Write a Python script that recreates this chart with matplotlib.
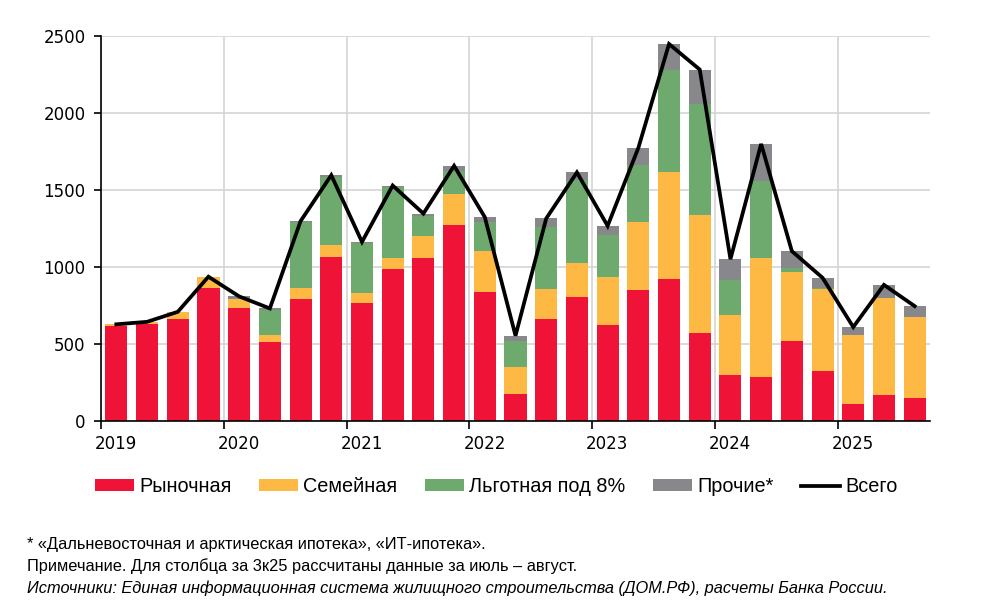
import matplotlib.pyplot as plt
import matplotlib.transforms as mtransforms
import numpy as np

# кварталы 2019Q1 - 2025Q3
quarters = ['1к19', '2к19', '3к19', '4к19', '1к20', '2к20', '3к20', '4к20',
            '1к21', '2к21', '3к21', '4к21', '1к22', '2к22', '3к22', '4к22',
            '1к23', '2к23', '3к23', '4к23', '1к24', '2к24', '3к24', '4к24',
            '1к25', '2к25', '3к25']

market = [618, 631, 662, 865, 735, 512, 791, 1064, 768, 984, 1057, 1272, 835, 173,
          662, 807, 621, 850, 921, 571, 298, 285, 519, 322, 112, 171, 151]
family = [10, 13, 47, 67, 59, 46, 72, 80, 65, 73, 143, 203, 268, 179,
          197, 220, 311, 439, 693, 768, 390, 772, 448, 537, 446, 629, 526]
pref8 = [0, 0, 0, 0, 0, 162, 426, 443, 320, 463, 128, 151, 190, 169,
         402, 541, 277, 376, 665, 722, 229, 504, 28, 4, 0, 0, 0]
other = [0, 0, 0, 5, 15, 11, 9, 9, 10, 9, 19, 31, 31, 33,
         54, 46, 58, 108, 169, 221, 134, 238, 108, 67, 52, 84, 69]
total = [628, 644, 709, 937, 809, 731, 1298, 1596, 1163, 1529, 1347, 1657, 1324, 554,
         1315, 1614, 1267, 1773, 2448, 2282, 1051, 1799, 1103, 930, 610, 884, 746]

years = ['2019', '2020', '2021', '2022', '2023', '2024', '2025']

c_red = '#EE1337'
c_yel = '#FDB944'
c_grn = '#6EAA6E'
c_gry = '#87878C'

fig = plt.figure(figsize=(9.95, 6.14), dpi=100)
ax = fig.add_axes([0.1015, 0.3143, 0.8332, 0.6271])

x = np.arange(len(quarters)) + 0.5
w = 0.72
m = np.array(market)
f = np.array(family)
p = np.array(pref8)
o = np.array(other)

ax.bar(x, m, w, color=c_red, label='Рыночная', zorder=2)
ax.bar(x, f, w, bottom=m, color=c_yel, label='Семейная', zorder=2)
ax.bar(x, p, w, bottom=m + f, color=c_grn, label='Льготная под 8%', zorder=2)
ax.bar(x, o, w, bottom=m + f + p, color=c_gry, label='Прочие*', zorder=2)
ax.plot(x, total, color='black', lw=2.7, label='Всего', zorder=3,
        solid_joinstyle='miter')

ax.set_xlim(0, len(quarters))
ax.set_ylim(0, 2500)
ax.set_xticks(np.arange(len(years)) * 4)
ax.set_xticklabels(years, fontsize=12)
ax.set_yticks(np.arange(0, 2501, 500))
ax.tick_params(axis='y', labelsize=12, length=5, width=1.2, pad=6)
ax.tick_params(axis='x', length=6, width=1.2, pad=4)
# подписи лет сдвинуты вправо от делений
off = mtransforms.ScaledTranslation(0.15, 0, fig.dpi_scale_trans)
for lab in ax.get_xticklabels():
    lab.set_transform(lab.get_transform() + off)
ax.grid(True, color='#d4d4d4', lw=1.2, zorder=0)
ax.set_axisbelow(True)
for s in ['top', 'right']:
    ax.spines[s].set_visible(False)
ax.spines['left'].set_linewidth(1.2)
ax.spines['bottom'].set_linewidth(1.2)

h, l = ax.get_legend_handles_labels()
order = [1, 2, 3, 4, 0]
fig.legend([h[i] for i in order], [l[i] for i in order],
           loc='center', bbox_to_anchor=(0.499, 0.207), ncol=5, frameon=False,
           prop={'family': 'Liberation Sans', 'size': 14.3},
           handlelength=1.95, handleheight=0.55, handletextpad=0.26,
           columnspacing=1.4)

notes = ['* «Дальневосточная и арктическая ипотека», «ИТ-ипотека».',
         'Примечание. Для столбца за 3к25 рассчитаны данные за июль – август.']
nf = dict(fontsize=11.8, family='Liberation Sans', va='center')
fig.text(0.027, 1 - 544 / 614, notes[0], **nf)
fig.text(0.027, 1 - 566 / 614, notes[1], **nf)
fig.text(0.027, 1 - 588 / 614,
         'Источники: Единая информационная система жилищного строительства (ДОМ.РФ), расчеты Банка России.',
         style='italic', **nf)

fig.savefig('out.png', dpi=100)
